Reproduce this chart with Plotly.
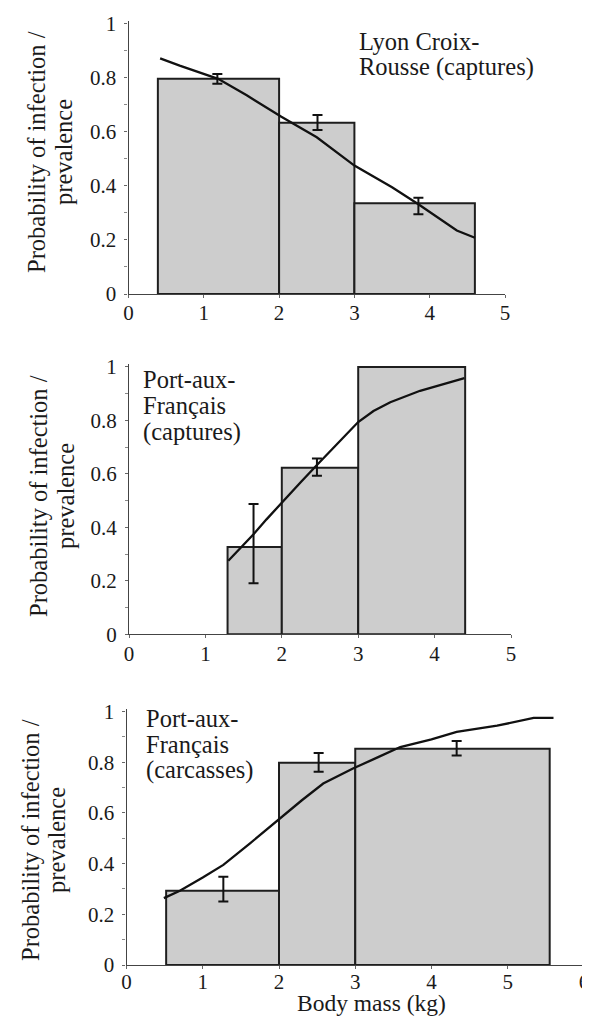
import plotly.graph_objects as go

# ---------------- data ----------------
# Panel 1: Lyon Croix-Rousse (captures)
p1_bin_left = [0.39, 2.0, 3.0]
p1_bin_right = [2.0, 3.0, 4.6]
p1_prev = [0.796, 0.634, 0.336]
p1_err_x = [1.18, 2.51, 3.85]
p1_err_lo = [0.778, 0.607, 0.295]
p1_err_hi = [0.814, 0.662, 0.356]
p1_curve_x = [0.42, 0.68, 1.19, 1.57, 2.03, 2.5, 3.0, 3.5, 3.85, 4.2, 4.36, 4.6]
p1_curve_y = [0.872, 0.845, 0.796, 0.735, 0.656, 0.58, 0.475, 0.395, 0.332, 0.265, 0.235, 0.208]

# Panel 2: Port-aux-Français (captures)
p2_bin_left = [1.29, 2.0, 3.0]
p2_bin_right = [2.0, 3.0, 4.4]
p2_prev = [0.327, 0.623, 1.0]
p2_err_x = [1.63, 2.46]
p2_err_lo = [0.191, 0.593]
p2_err_hi = [0.487, 0.658]
p2_curve_x = [1.30, 1.45, 1.63, 1.8, 2.01, 2.25, 2.46, 2.75, 3.0, 3.2, 3.42, 3.81, 4.1, 4.39]
p2_curve_y = [0.275, 0.32, 0.374, 0.43, 0.497, 0.57, 0.633, 0.72, 0.794, 0.835, 0.868, 0.911, 0.935, 0.958]

# Panel 3: Port-aux-Français (carcasses)
p3_bin_left = [0.52, 2.0, 3.0]
p3_bin_right = [2.0, 3.0, 5.55]
p3_prev = [0.293, 0.798, 0.853]
p3_err_x = [1.27, 2.52, 4.33]
p3_err_lo = [0.251, 0.762, 0.827]
p3_err_hi = [0.348, 0.836, 0.884]
p3_curve_x = [0.49, 0.7, 1.0, 1.27, 1.62, 2.01, 2.3, 2.58, 2.97, 3.3, 3.59, 4.0, 4.33, 4.86, 5.34, 5.6]
p3_curve_y = [0.264, 0.293, 0.345, 0.395, 0.48, 0.579, 0.65, 0.716, 0.775, 0.82, 0.86, 0.89, 0.92, 0.944, 0.975, 0.975]

label_lines = [["Lyon Croix-", "Rousse (captures)"],
               ["Port-aux-", "Français", "(captures)"],
               ["Port-aux-", "Français", "(carcasses)"]]
y_title_lines = ["Probability of infection /", "prevalence"]
x_title = "Body mass (kg)"
y_tick_vals = [0, 0.2, 0.4, 0.6, 0.8, 1]
y_tick_text = ["0", "0.2", "0.4", "0.6", "0.8", "1"]

# the page body adds an 8 px margin; work in window pixels and compensate
OFF = 8
W, H = 590 - OFF, 1017 - OFF
FONT = "Liberation Serif"
FS_TXT = 24.5
FS_TICK = 21
TXT = "#1a1a1a"
FILL = "#cdcdcd"
EDGE = "#1e1e1e"

def px_x(p):
    return (p - OFF) / W

def px_y(p):
    return 1 - (p - OFF) / H

# window-pixel geometry of each panel: x pixel of value 0 and of xmax, y pixel of value 0 and 1
panels = [
    dict(x0=128.5, x1=505.0, xmax=5, y0=294.0, y1=21.0, xstand=-3),
    dict(x0=129.0, x1=511.0, xmax=5, y0=634.3, y1=364.3, xstand=-3),
    dict(x0=126.5, x1=584.0, xmax=6, y0=965.0, y1=709.0, xstand=-5),
]

data = [
    (p1_bin_left, p1_bin_right, p1_prev, p1_err_x, p1_err_lo, p1_err_hi, p1_curve_x, p1_curve_y),
    (p2_bin_left, p2_bin_right, p2_prev, p2_err_x, p2_err_lo, p2_err_hi, p2_curve_x, p2_curve_y),
    (p3_bin_left, p3_bin_right, p3_prev, p3_err_x, p3_err_lo, p3_err_hi, p3_curve_x, p3_curve_y),
]

fig = go.Figure()
layout = {}
annotations = []

for i, (pan, d) in enumerate(zip(panels, data)):
    n = "" if i == 0 else str(i + 1)
    xa, ya = "x" + n, "y" + n
    bl, br, prev, ex, elo, ehi, cx, cy = d
    centers = [(a + b) / 2 for a, b in zip(bl, br)]
    widths = [b - a for a, b in zip(bl, br)]
    fig.add_trace(go.Bar(x=centers, y=prev, width=widths, base=0,
                         marker=dict(color=FILL, line=dict(color=EDGE, width=2)),
                         xaxis=xa, yaxis=ya, showlegend=False, hoverinfo="skip"))
    emid = [(a + b) / 2 for a, b in zip(elo, ehi)]
    ehalf = [(b - a) / 2 for a, b in zip(elo, ehi)]
    fig.add_trace(go.Scatter(x=ex, y=emid, mode="markers",
                             marker=dict(size=1, color="rgba(0,0,0,0)"),
                             error_y=dict(type="data", array=ehalf, color="#111", thickness=2, width=5),
                             xaxis=xa, yaxis=ya, showlegend=False, hoverinfo="skip"))
    fig.add_trace(go.Scatter(x=cx, y=cy, mode="lines",
                             line=dict(color="#111", width=2.3),
                             xaxis=xa, yaxis=ya, showlegend=False, hoverinfo="skip"))

    axis_common = dict(showgrid=False, zeroline=False, showline=True, linecolor="#444", linewidth=1.3,
                       ticks="outside", tickcolor="#666", ticklen=3, tickwidth=1, automargin=False,
                       tickfont=dict(family=FONT, size=FS_TICK, color=TXT))
    layout["xaxis" + n] = dict(axis_common, domain=[px_x(pan["x0"]), px_x(pan["x1"])],
                               range=[0, pan["xmax"]], dtick=1, tick0=0, anchor=ya,
                               ticklabelstandoff=pan["xstand"])
    layout["yaxis" + n] = dict(axis_common, domain=[px_y(pan["y0"]), px_y(pan["y1"])],
                               range=[0, 1.01], tickvals=y_tick_vals, ticktext=y_tick_text,
                               minor=dict(dtick=0.1, tick0=0, ticks="outside", ticklen=3, tickcolor="#888"),
                               anchor=xa, ticklabelstandoff=4)

ann_font = dict(family=FONT, size=FS_TXT, color=TXT)

# panel labels: (left x px, first line centre y px, line spacing px)
label_pos = [(357, 41, 26), (141, 379, 26.5), (144, 718, 26)]
for lines, (lx, ly, sp) in zip(label_lines, label_pos):
    for k, t in enumerate(lines):
        annotations.append(dict(text=t, xref="paper", yref="paper", x=px_x(lx), y=px_y(ly + k * sp),
                                xanchor="left", yanchor="middle", showarrow=False, font=ann_font))

# y titles: (line1 centre x, line2 centre x, centre y)
for x1p, x2p, cyp in [(36, 63, 152), (39, 66, 496), (30, 56, 840)]:
    for t, xp in zip(y_title_lines, [x1p, x2p]):
        annotations.append(dict(text=t, xref="paper", yref="paper", x=px_x(xp), y=px_y(cyp),
                                xanchor="center", yanchor="middle", textangle=-90, showarrow=False,
                                font=ann_font))

annotations.append(dict(text=x_title, xref="paper", yref="paper", x=px_x(371), y=px_y(1003),
                        xanchor="center", yanchor="middle", showarrow=False,
                        font=dict(family=FONT, size=23.5, color=TXT)))

fig.update_layout(**layout)
fig.update_layout(width=W, height=H, margin=dict(l=0, r=0, t=0, b=0, pad=0, autoexpand=False),
                  plot_bgcolor="white", paper_bgcolor="white", annotations=annotations,
                  font=dict(family=FONT, size=FS_TXT, color=TXT), barmode="overlay")

fig.write_html("out.html")
